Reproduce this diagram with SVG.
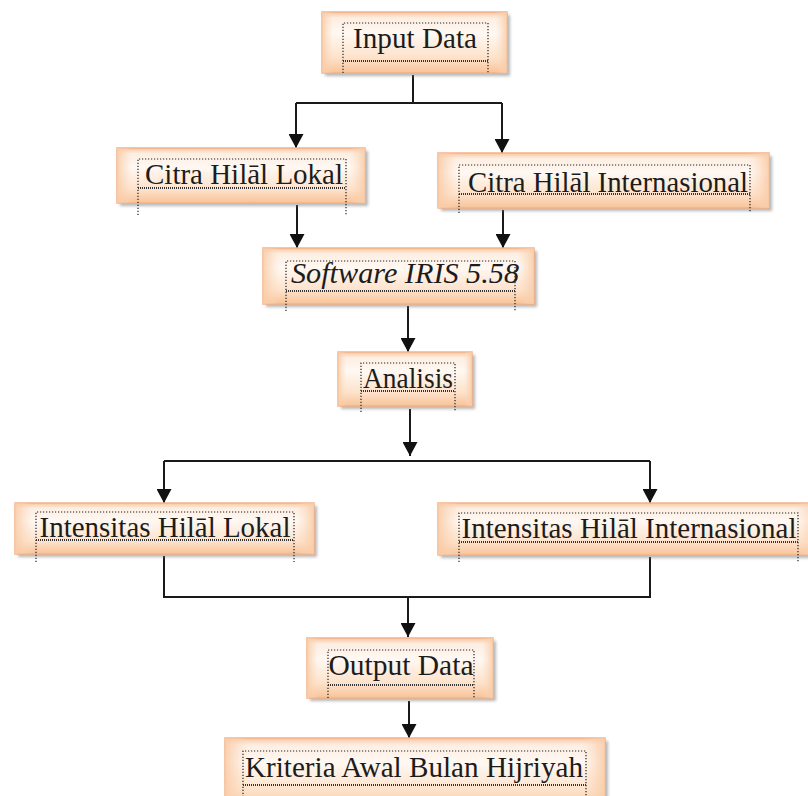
<svg xmlns="http://www.w3.org/2000/svg" width="808" height="796" viewBox="0 0 808 796">
<defs>
<linearGradient id="gv" x1="0" y1="0" x2="0" y2="1">
<stop offset="0" stop-color="#f7c6a0"/>
<stop offset="0.1" stop-color="#fdeee2"/>
<stop offset="0.35" stop-color="#fff8f2"/>
<stop offset="0.75" stop-color="#fde2cb"/>
<stop offset="1" stop-color="#f8c398"/>
</linearGradient>
<linearGradient id="gh" x1="0" y1="0" x2="1" y2="0">
<stop offset="0" stop-color="#f9cba6" stop-opacity="0.9"/>
<stop offset="0.06" stop-color="#fbd9bd" stop-opacity="0"/>
<stop offset="0.94" stop-color="#fbd9bd" stop-opacity="0"/>
<stop offset="1" stop-color="#f9cba6" stop-opacity="0.9"/>
</linearGradient>
<filter id="blur" x="-10%" y="-30%" width="120%" height="160%">
<feGaussianBlur stdDeviation="1.5"/>
</filter>
<marker id="ah" viewBox="0 0 14 15" refX="14" refY="7.5" markerWidth="14" markerHeight="15" markerUnits="userSpaceOnUse" orient="auto">
<path d="M0,0 L14,7.5 L0,15 Z" fill="#111"/>
</marker>
<style>
.sh{fill:#7a7a7a;opacity:.55;filter:url(#blur)}
.bx{fill:url(#gv);stroke:#f2b289;stroke-width:1.5}
.ov{fill:url(#gh)}
.lbl{font-family:"Liberation Serif","Times New Roman",serif;font-size:29px;fill:#1c1c1c;text-anchor:middle}
.it{font-style:italic}
.fr{fill:none;stroke:#222;stroke-width:1.2;stroke-dasharray:1.2 1.8}
.ul{fill:none;stroke:#333;stroke-width:2;stroke-dasharray:1 1}
.ln{fill:none;stroke:#1a1a1a;stroke-width:2}
.ar{fill:none;stroke:#1a1a1a;stroke-width:2;marker-end:url(#ah)}
</style>
</defs>
<rect width="808" height="796" fill="#ffffff"/>

<g id="connectors">
<path class="ln" d="M413,75 V103 M296,103 H502"/>
<path class="ar" d="M296,103 V148"/>
<path class="ar" d="M502,103 V153"/>
<path class="ar" d="M297,205 V248"/>
<path class="ar" d="M503,210 V248"/>
<path class="ar" d="M408,306 V352"/>
<path class="ar" d="M410,409 V456"/>
<path class="ln" d="M164,461 H650"/>
<path class="ar" d="M164,461 V503"/>
<path class="ar" d="M650,461 V503"/>
<path class="ln" d="M164,556 V597 H650 V557"/>
<path class="ar" d="M408,597 V637"/>
<path class="ar" d="M409,701 V738"/>
</g>

<g id="input-data">
<rect class="sh" x="325" y="15" width="185" height="61"/>
<rect class="bx" x="322" y="12" width="185" height="61"/>
<rect class="ov" x="322" y="12" width="185" height="61"/>
<text class="lbl" x="415" y="48" textLength="124" lengthAdjust="spacingAndGlyphs">Input Data</text>
<path class="fr" d="M343,73 V23 H488 V73"/>
<path class="ul" d="M343,61 H488"/>
</g>

<g id="citra-lokal">
<rect class="sh" x="120" y="151" width="248" height="55"/>
<rect class="bx" x="117" y="148" width="248" height="55"/>
<rect class="ov" x="117" y="148" width="248" height="55"/>
<text class="lbl" x="244" y="184" textLength="198" lengthAdjust="spacingAndGlyphs">Citra Hilāl Lokal</text>
<path class="fr" d="M138,215 V159 H346 V215"/>
<path class="ul" d="M138,188 H346"/>
</g>

<g id="citra-internasional">
<rect class="sh" x="441" y="156" width="331" height="55"/>
<rect class="bx" x="438" y="153" width="331" height="55"/>
<rect class="ov" x="438" y="153" width="331" height="55"/>
<text class="lbl" x="608" y="192" textLength="280" lengthAdjust="spacingAndGlyphs">Citra Hilāl Internasional</text>
<path class="fr" d="M459,213 V165 H750 V213"/>
<path class="ul" d="M459,194 H750"/>
</g>

<g id="software-iris">
<rect class="sh" x="266" y="251" width="271" height="56"/>
<rect class="bx" x="263" y="248" width="271" height="56"/>
<rect class="ov" x="263" y="248" width="271" height="56"/>
<text class="lbl it" x="405" y="283" textLength="228" lengthAdjust="spacingAndGlyphs">Software IRIS 5.58</text>
<path class="fr" d="M286,311 V261 H515 V311"/>
<path class="ul" d="M286,291 H515"/>
</g>

<g id="analisis">
<rect class="sh" x="341" y="355" width="134" height="54"/>
<rect class="bx" x="338" y="352" width="134" height="54"/>
<rect class="ov" x="338" y="352" width="134" height="54"/>
<text class="lbl" x="408" y="388" textLength="90" lengthAdjust="spacingAndGlyphs">Analisis</text>
<path class="fr" d="M361,412 V363 H455 V412"/>
<path class="ul" d="M361,391 H455"/>
</g>

<g id="intensitas-lokal">
<rect class="sh" x="18" y="506" width="299" height="51"/>
<rect class="bx" x="15" y="503" width="299" height="51"/>
<rect class="ov" x="15" y="503" width="299" height="51"/>
<text class="lbl" x="165" y="537" textLength="251" lengthAdjust="spacingAndGlyphs">Intensitas Hilāl Lokal</text>
<path class="fr" d="M36,562 V512 H294 V562"/>
<path class="ul" d="M36,540 H294"/>
</g>

<g id="intensitas-internasional">
<rect class="sh" x="441" y="506" width="380" height="52"/>
<rect class="bx" x="438" y="503" width="380" height="52"/>
<rect class="ov" x="438" y="503" width="380" height="52"/>
<text class="lbl" x="629" y="538" textLength="335" lengthAdjust="spacingAndGlyphs">Intensitas Hilāl Internasional</text>
<path class="fr" d="M459,562 V513 H798 V562"/>
<path class="ul" d="M459,542 H798"/>
</g>

<g id="output-data">
<rect class="sh" x="310" y="641" width="186" height="60"/>
<rect class="bx" x="307" y="638" width="186" height="60"/>
<rect class="ov" x="307" y="638" width="186" height="60"/>
<text class="lbl" x="401" y="675" textLength="145" lengthAdjust="spacingAndGlyphs">Output Data</text>
<path class="fr" d="M328,698 V650 H474 V698"/>
<path class="ul" d="M328,685 H474"/>
</g>

<g id="kriteria">
<rect class="sh" x="228" y="741" width="380" height="70"/>
<rect class="bx" x="225" y="738" width="380" height="70"/>
<rect class="ov" x="225" y="738" width="380" height="70"/>
<text class="lbl" x="414" y="777" textLength="338" lengthAdjust="spacingAndGlyphs">Kriteria Awal Bulan Hijriyah</text>
<path class="fr" d="M243,800 V751 H586 V800"/>
<path class="ul" d="M243,785 H586"/>
</g>
</svg>
